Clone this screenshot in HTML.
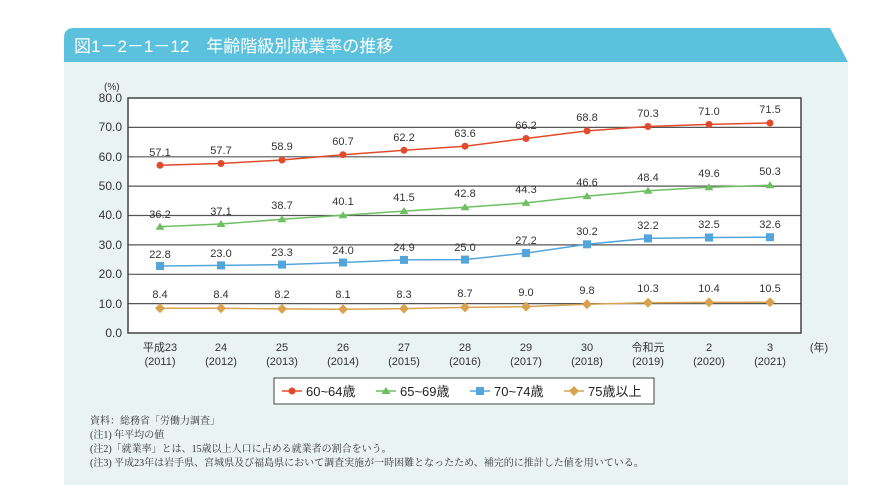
<!DOCTYPE html>
<html><head><meta charset="utf-8"><style>
body{margin:0;background:#fff;width:870px;height:502px;overflow:hidden}
svg{display:block;font-family:"Liberation Sans","Noto Sans CJK JP",sans-serif}
</style></head><body>
<svg width="870" height="502" viewBox="0 0 870 502">
<path d="M64,485 V38 Q64,28 74,28 H830 L848,62 V485 Z" fill="#e9f4f2"/>
<path d="M64,62 V38 Q64,28 74,28 H830 L848,62 Z" fill="#5bc1dc"/>
<text x="74" y="52" font-size="17" fill="#fff">図1－2－1－12　年齢階級別就業率の推移</text>
<text x="104" y="90" font-size="10" fill="#333">(%)</text>
<rect x="128" y="98" width="673" height="235" fill="#fff"/>
<g stroke="#555" stroke-width="1.2">
<line x1="128" x2="801" y1="127.4" y2="127.4"/><line x1="128" x2="801" y1="156.8" y2="156.8"/>
<line x1="128" x2="801" y1="186.1" y2="186.1"/><line x1="128" x2="801" y1="215.5" y2="215.5"/>
<line x1="128" x2="801" y1="244.9" y2="244.9"/><line x1="128" x2="801" y1="274.3" y2="274.3"/>
<line x1="128" x2="801" y1="303.6" y2="303.6"/>
</g>
<rect x="128" y="98" width="673" height="235" fill="none" stroke="#444" stroke-width="1.5"/>
<g font-size="12" fill="#333" text-anchor="end">
<text x="122" y="102">80.0</text><text x="122" y="131">70.0</text><text x="122" y="161">60.0</text>
<text x="122" y="190">50.0</text><text x="122" y="219">40.0</text><text x="122" y="249">30.0</text>
<text x="122" y="278">20.0</text><text x="122" y="308">10.0</text><text x="122" y="337">0.0</text>
</g>
<g font-size="11" fill="#333" text-anchor="middle">
<text x="160" y="351">平成23</text><text x="160" y="365">(2011)</text>
<text x="221" y="351">24</text><text x="221" y="365">(2012)</text>
<text x="282" y="351">25</text><text x="282" y="365">(2013)</text>
<text x="343" y="351">26</text><text x="343" y="365">(2014)</text>
<text x="404" y="351">27</text><text x="404" y="365">(2015)</text>
<text x="465" y="351">28</text><text x="465" y="365">(2016)</text>
<text x="526" y="351">29</text><text x="526" y="365">(2017)</text>
<text x="587" y="351">30</text><text x="587" y="365">(2018)</text>
<text x="648" y="351">令和元</text><text x="648" y="365">(2019)</text>
<text x="709" y="351">2</text><text x="709" y="365">(2020)</text>
<text x="770" y="351">3</text><text x="770" y="365">(2021)</text>
<text x="819" y="351">(年)</text>
</g>
<!-- series -->
<g fill="none" stroke-width="1.5">
<polyline stroke="#e14b2c" points="160,165.3 221,163.5 282,160 343,154.7 404,150.3 465,146.2 526,138.5 587,130.9 648,126.5 709,124.4 770,123"/>
<polyline stroke="#6dbf62" points="160,226.7 221,224 282,219.3 343,215.2 404,211.1 465,207.3 526,202.9 587,196.1 648,190.8 709,187.3 770,185.2"/>
<polyline stroke="#52a6dc" points="160,266 221,265.4 282,264.6 343,262.5 404,259.9 465,259.6 526,253.1 587,244.3 648,238.4 709,237.5 770,237.2"/>
<polyline stroke="#d9a24e" points="160,308.3 221,308.3 282,308.9 343,309.2 404,308.6 465,307.4 526,306.6 587,304.2 648,302.7 709,302.4 770,302.2"/>
</g>
<g fill="#e14b2c">
<circle cx="160" cy="165.3" r="3.5"/><circle cx="221" cy="163.5" r="3.5"/><circle cx="282" cy="160" r="3.5"/><circle cx="343" cy="154.7" r="3.5"/><circle cx="404" cy="150.3" r="3.5"/><circle cx="465" cy="146.2" r="3.5"/><circle cx="526" cy="138.5" r="3.5"/><circle cx="587" cy="130.9" r="3.5"/><circle cx="648" cy="126.5" r="3.5"/><circle cx="709" cy="124.4" r="3.5"/><circle cx="770" cy="123" r="3.5"/>
</g>
<g fill="#6dbf62">
<path d="M160,222.7l4.5,7h-9z"/><path d="M221,220l4.5,7h-9z"/><path d="M282,215.3l4.5,7h-9z"/><path d="M343,211.2l4.5,7h-9z"/><path d="M404,207.1l4.5,7h-9z"/><path d="M465,203.3l4.5,7h-9z"/><path d="M526,198.9l4.5,7h-9z"/><path d="M587,192.1l4.5,7h-9z"/><path d="M648,186.8l4.5,7h-9z"/><path d="M709,183.3l4.5,7h-9z"/><path d="M770,181.2l4.5,7h-9z"/>
</g>
<g fill="#52a6dc">
<rect x="156" y="262" width="8" height="8"/><rect x="217" y="261.4" width="8" height="8"/><rect x="278" y="260.6" width="8" height="8"/><rect x="339" y="258.5" width="8" height="8"/><rect x="400" y="255.9" width="8" height="8"/><rect x="461" y="255.6" width="8" height="8"/><rect x="522" y="249.1" width="8" height="8"/><rect x="583" y="240.3" width="8" height="8"/><rect x="644" y="234.4" width="8" height="8"/><rect x="705" y="233.5" width="8" height="8"/><rect x="766" y="233.2" width="8" height="8"/>
</g>
<g fill="#d9a24e">
<path d="M160,303.3l5,5l-5,5l-5,-5z"/><path d="M221,303.3l5,5l-5,5l-5,-5z"/><path d="M282,303.9l5,5l-5,5l-5,-5z"/><path d="M343,304.2l5,5l-5,5l-5,-5z"/><path d="M404,303.6l5,5l-5,5l-5,-5z"/><path d="M465,302.4l5,5l-5,5l-5,-5z"/><path d="M526,301.6l5,5l-5,5l-5,-5z"/><path d="M587,299.2l5,5l-5,5l-5,-5z"/><path d="M648,297.7l5,5l-5,5l-5,-5z"/><path d="M709,297.4l5,5l-5,5l-5,-5z"/><path d="M770,297.2l5,5l-5,5l-5,-5z"/>
</g>
<g font-size="11" fill="#333" text-anchor="middle">
<text x="160" y="156">57.1</text><text x="221" y="154">57.7</text><text x="282" y="150">58.9</text><text x="343" y="145">60.7</text><text x="404" y="141">62.2</text><text x="465" y="137">63.6</text><text x="526" y="129">66.2</text><text x="587" y="121">68.8</text><text x="648" y="117">70.3</text><text x="709" y="115">71.0</text><text x="770" y="113">71.5</text>
<text x="160" y="218">36.2</text><text x="221" y="215">37.1</text><text x="282" y="209">38.7</text><text x="343" y="205">40.1</text><text x="404" y="201">41.5</text><text x="465" y="197">42.8</text><text x="526" y="193">44.3</text><text x="587" y="186">46.6</text><text x="648" y="181">48.4</text><text x="709" y="177">49.6</text><text x="770" y="175">50.3</text>
<text x="160" y="258">22.8</text><text x="221" y="257">23.0</text><text x="282" y="256">23.3</text><text x="343" y="254">24.0</text><text x="404" y="251">24.9</text><text x="465" y="251">25.0</text><text x="526" y="244">27.2</text><text x="587" y="235">30.2</text><text x="648" y="229">32.2</text><text x="709" y="228">32.5</text><text x="770" y="228">32.6</text>
<text x="160" y="298">8.4</text><text x="221" y="298">8.4</text><text x="282" y="298">8.2</text><text x="343" y="298">8.1</text><text x="404" y="298">8.3</text><text x="465" y="297">8.7</text><text x="526" y="296">9.0</text><text x="587" y="294">9.8</text><text x="648" y="292">10.3</text><text x="709" y="292">10.4</text><text x="770" y="292">10.5</text>
</g>
<!-- legend -->
<rect x="274" y="378" width="380" height="26" fill="#fff" stroke="#444" stroke-width="1"/>
<g stroke-width="1.5">
<line x1="282" x2="302" y1="391" y2="391" stroke="#e14b2c"/><circle cx="292" cy="391" r="3.5" fill="#e14b2c"/>
<line x1="376" x2="396" y1="391" y2="391" stroke="#6dbf62"/><path d="M386,387l4.5,7h-9z" fill="#6dbf62"/>
<line x1="470" x2="490" y1="391" y2="391" stroke="#52a6dc"/><rect x="476" y="387" width="8" height="8" fill="#52a6dc"/>
<line x1="564" x2="584" y1="391" y2="391" stroke="#d9a24e"/><path d="M574,386l5,5l-5,5l-5,-5z" fill="#d9a24e"/>
</g>
<g font-size="13" fill="#222">
<text x="306" y="396">60~64歳</text><text x="400" y="396">65~69歳</text><text x="494" y="396">70~74歳</text><text x="588" y="396">75歳以上</text>
</g>
<g font-size="10" fill="#333" font-family="'Liberation Serif','Noto Serif CJK SC',serif">
<text x="90" y="424">資料：総務省「労働力調査」</text>
<text x="90" y="438">(注1) 年平均の値</text>
<text x="90" y="452">(注2)「就業率」とは、15歳以上人口に占める就業者の割合をいう。</text>
<text x="90" y="466">(注3) 平成23年は岩手県、宮城県及び福島県において調査実施が一時困難となったため、補完的に推計した値を用いている。</text>
</g>
</svg>
</body></html>
